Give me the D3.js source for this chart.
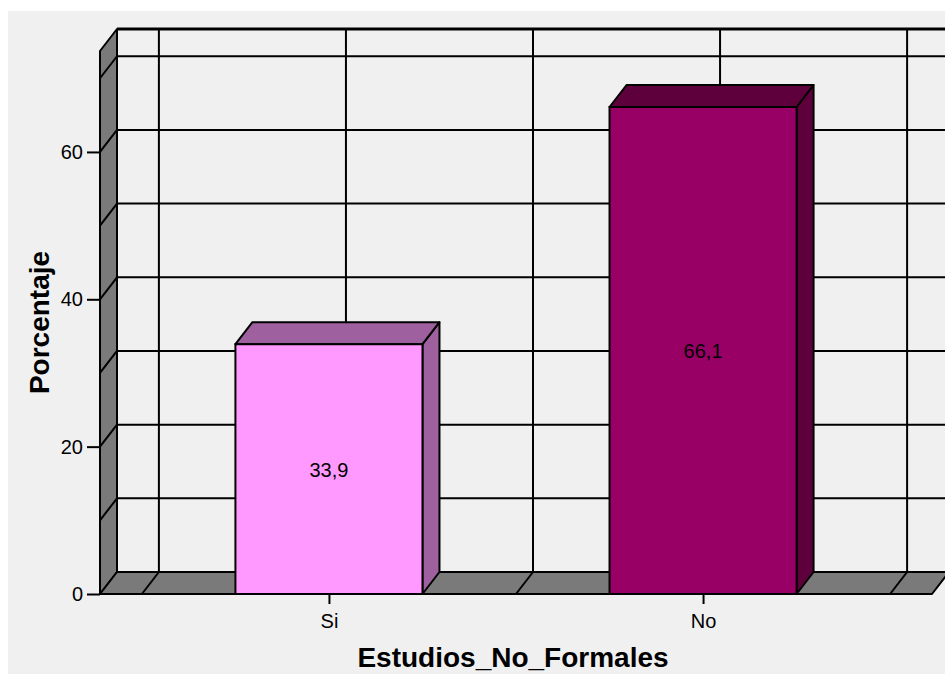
<!DOCTYPE html>
<html>
<head>
<meta charset="utf-8">
<script src="https://cdn.jsdelivr.net/npm/d3@7"></script>
<style>
  html, body { margin: 0; padding: 0; background: #ffffff; }
  svg { display: block; font-family: "Liberation Sans", Arial, sans-serif; }
</style>
</head>
<body>
<svg id="chart" width="945" height="674"></svg>
<script>
// Estudios_No_Formales — percentage per answer
const categories = ["Si", "No"];
const percentages = [33.9, 66.1];
const valueLabels = ["33,9", "66,1"];
const yTicks = [0, 20, 40, 60];
const gridValues = [0, 10, 20, 30, 40, 50, 60, 70];
const barFronts = ["#ff99ff", "#990066"];
const barShades = ["#9e609e", "#5e003c"];

const W = 945, H = 674;
const svg = d3.select("#chart");

// 3D depth offset of the back wall
const DX = 17, DY = -22;
const wallFill = "#7a7a7a";
const ink = "#000000";

const x = d3.scalePoint().domain(categories).range([100, 932]).padding(0.612);
const step = x.step();
const barW = step / 2;
const y = d3.scaleLinear().domain([0, 73.7]).range([594, 51]);
const y0 = y(0), yTop = y(73.7);
const xL = 100, xR = 932;

// panel background
svg.append("rect").attr("x", 8).attr("y", 11).attr("width", W - 8).attr("height", H - 11)
  .attr("fill", "#f0f0f0");

const plot = svg.append("g");

// vertical grid positions: category centres and midpoints between them
const vGrid = [];
categories.forEach(c => { vGrid.push(x(c) - step / 2); vGrid.push(x(c)); });
vGrid.push(x(categories[categories.length - 1]) + step / 2);

// back wall grid
plot.selectAll("line.hgrid").data(gridValues.filter(v => v > 0)).join("line")
  .attr("x1", xL + DX).attr("x2", xR + DX)
  .attr("y1", d => y(d) + DY).attr("y2", d => y(d) + DY)
  .attr("stroke", ink).attr("stroke-width", 2);
plot.selectAll("line.vgrid").data(vGrid).join("line")
  .attr("x1", d => d + DX).attr("x2", d => d + DX)
  .attr("y1", y0 + DY).attr("y2", yTop + DY)
  .attr("stroke", ink).attr("stroke-width", 2);
// top edge of back wall
plot.append("line").attr("x1", xL + DX).attr("x2", xR + DX)
  .attr("y1", yTop + DY).attr("y2", yTop + DY)
  .attr("stroke", ink).attr("stroke-width", 3);

// left wall
const poly = pts => pts.map(p => p.join(",")).join(" ");
plot.append("polygon")
  .attr("points", poly([[xL, y0], [xL, yTop], [xL + DX, yTop + DY], [xL + DX, y0 + DY]]))
  .attr("fill", wallFill).attr("stroke", ink).attr("stroke-width", 2).attr("stroke-linejoin", "round");
plot.selectAll("line.lwall").data(gridValues.filter(v => v > 0)).join("line")
  .attr("x1", xL).attr("x2", xL + DX)
  .attr("y1", d => y(d)).attr("y2", d => y(d) + DY)
  .attr("stroke", ink).attr("stroke-width", 2);

// floor
plot.append("polygon")
  .attr("points", poly([[xL, y0], [xL + DX, y0 + DY], [xR + DX, y0 + DY], [xR, y0]]))
  .attr("fill", wallFill).attr("stroke", ink).attr("stroke-width", 2).attr("stroke-linejoin", "round");
plot.selectAll("line.floor").data(vGrid).join("line")
  .attr("x1", d => d).attr("x2", d => d + DX)
  .attr("y1", y0).attr("y2", y0 + DY)
  .attr("stroke", ink).attr("stroke-width", 2);

// bars
const bars = plot.selectAll("g.bar").data(categories).join("g");
bars.each(function (c, i) {
  const g = d3.select(this);
  const x0 = x(c) - barW / 2, x1 = x(c) + barW / 2;
  const yt = y(percentages[i]);
  g.append("polygon")
    .attr("points", poly([[x1, y0], [x1, yt], [x1 + DX, yt + DY], [x1 + DX, y0 + DY]]))
    .attr("fill", barShades[i]).attr("stroke", ink).attr("stroke-width", 2).attr("stroke-linejoin", "round");
  g.append("polygon")
    .attr("points", poly([[x0, yt], [x0 + DX, yt + DY], [x1 + DX, yt + DY], [x1, yt]]))
    .attr("fill", barShades[i]).attr("stroke", ink).attr("stroke-width", 2).attr("stroke-linejoin", "round");
  g.append("rect").attr("x", x0).attr("y", yt).attr("width", barW).attr("height", y0 - yt)
    .attr("fill", barFronts[i]).attr("stroke", ink).attr("stroke-width", 2);
  g.append("text").attr("x", x(c)).attr("y", (yt + y0) / 2 + 8)
    .attr("text-anchor", "middle").attr("font-size", 20).attr("fill", ink)
    .text(valueLabels[i]);
});

// axes
const yAxis = d3.axisLeft(y).tickValues(yTicks).tickSize(13).tickPadding(4).tickFormat(d3.format("d"));
const gy = svg.append("g").attr("transform", `translate(${xL},0)`).call(yAxis);
gy.select(".domain").remove();
gy.selectAll(".tick line").attr("stroke", ink).attr("stroke-width", 2);
gy.selectAll(".tick text").attr("font-size", 20).attr("fill", ink).attr("font-family", "Liberation Sans, Arial, sans-serif");

const xAxis = d3.axisBottom(x).tickSize(10).tickPadding(10);
const gx = svg.append("g").attr("transform", `translate(0,${y0})`).call(xAxis);
gx.select(".domain").remove();
gx.selectAll(".tick line").attr("stroke", ink).attr("stroke-width", 2);
gx.selectAll(".tick text").attr("font-size", 20).attr("fill", ink).attr("font-family", "Liberation Sans, Arial, sans-serif");

// axis titles
svg.append("text").attr("x", (xL + xR) / 2 - 3).attr("y", 667)
  .attr("text-anchor", "middle").attr("font-size", 28).attr("font-weight", "bold")
  .text("Estudios_No_Formales");
svg.append("text").attr("transform", `translate(49,${(y0 + yTop) / 2}) rotate(-90)`)
  .attr("text-anchor", "middle").attr("font-size", 28).attr("font-weight", "bold")
  .text("Porcentaje");
</script>
</body>
</html>
